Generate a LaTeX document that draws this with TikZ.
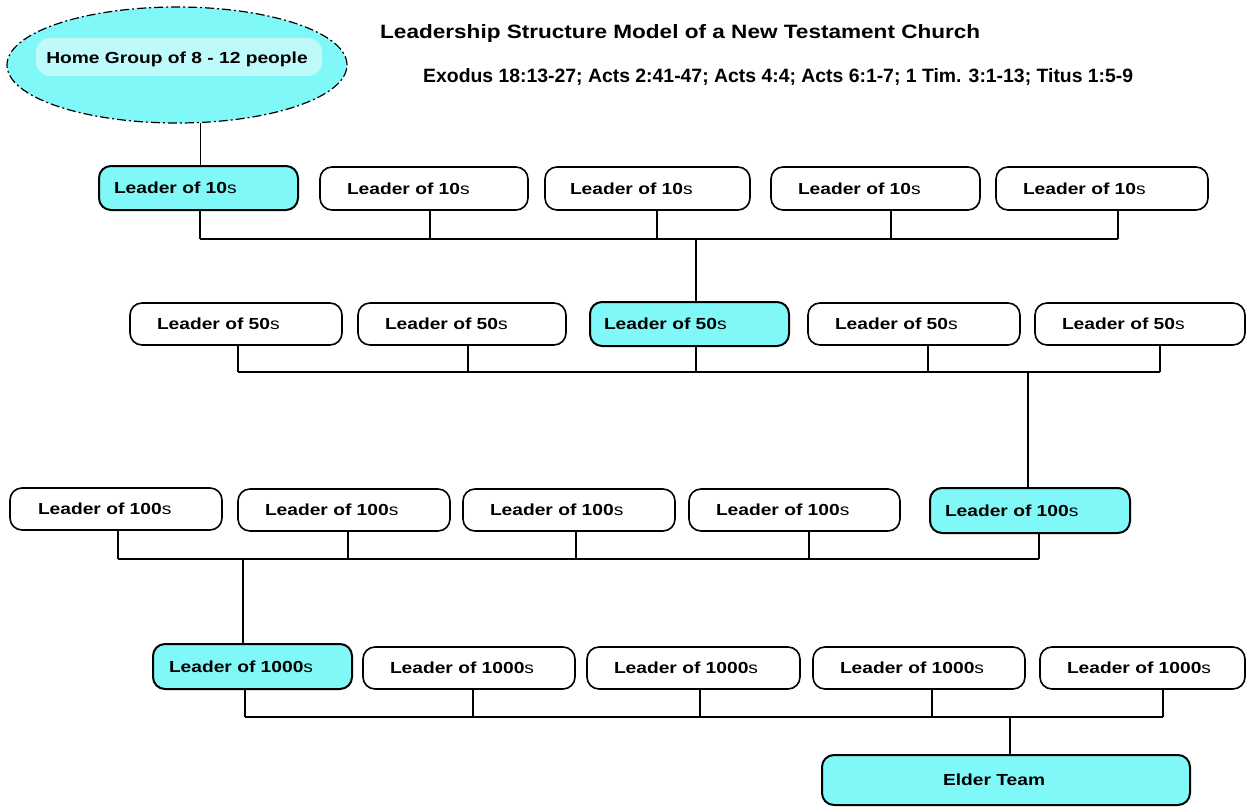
\documentclass[tikz,border=0pt]{standalone}
\usepackage{fontspec}
\setmainfont{Liberation Sans}
\newfontfamily\lblfont[FakeStretch=1.2]{Liberation Sans}
\usepackage{graphicx}
\usetikzlibrary{shapes.geometric}
\definecolor{boxcyan}{RGB}{128,248,248}
\definecolor{lightcyan}{RGB}{190,250,250}
\tikzset{
  lbl/.style={font=\lblfont\fontsize{16}{18}\selectfont},
  wbox/.style={lbl, draw=black, line width=1.6pt, rounded corners=12pt, fill=white, inner ysep=0pt, align=left},
  cbox/.style={wbox, fill=boxcyan, line width=2pt},
  wire/.style={line width=1.5pt, draw=black},
  hgshape/.style={ellipse, draw=black, line width=1.2pt, fill=boxcyan, dash pattern=on 9pt off 3pt on 2pt off 3pt, minimum width=340pt, minimum height=116pt, inner sep=0pt},
}
\newcommand\ldbox[8]{%
  \pgfmathsetmacro\bw{#5-#4}%
  \pgfmathsetmacro\bh{#7-#6}%
  \pgfmathsetmacro\bx{(#4+#5)/2}%
  \pgfmathsetmacro\by{(#6+#7)/2}%
  \pgfmathsetmacro\tw{#5-#4-2*#3}%
  \node[#2, inner xsep=#3pt, minimum width=\bw pt, minimum height=\bh pt, text width=\tw pt] (#1) at (\bx,\by) {#8};}
\newcommand\ldr[1]{\textbf{Leader of #1}s}
\begin{document}
\begin{tikzpicture}[x=1pt,y=-1pt]
\useasboundingbox (0,0) rectangle (1248,808);
% title
\node[anchor=base west, inner sep=0pt] (title) at (380,39) {\resizebox{600pt}{14pt}{\bfseries Leadership Structure Model of a New Testament Church}};
\node[anchor=base west, inner sep=0pt] (refs) at (423,82) {\resizebox{710pt}{14pt}{\bfseries Exodus 18:13-27; Acts 2:41-47; Acts 4:4; Acts 6:1-7; 1 Tim. 3:1-13; Titus 1:5-9}};
% home group
\node[hgshape] (hg) at (177,65) {};
\fill[lightcyan, rounded corners=14pt] (36,38) rectangle (322,76);
\node[lbl, anchor=base, inner sep=0pt] (hgt) at (177,64) {\textbf{Home Group of 8 - 12 people}};
% row 1
\ldbox{b11}{cbox}{15}{99}{298}{166}{210}{\ldr{10}}
\ldbox{b12}{wbox}{27}{320}{528}{167}{210}{\ldr{10}}
\ldbox{b13}{wbox}{25}{545}{750}{167}{210}{\ldr{10}}
\ldbox{b14}{wbox}{27}{771}{980}{167}{210}{\ldr{10}}
\ldbox{b15}{wbox}{27}{996}{1208}{167}{210}{\ldr{10}}
% row 2
\ldbox{b21}{wbox}{27}{130}{342}{303}{345}{\ldr{50}}
\ldbox{b22}{wbox}{27}{358}{566}{303}{345}{\ldr{50}}
\ldbox{b23}{cbox}{14}{590}{789}{302}{346}{\ldr{50}}
\ldbox{b24}{wbox}{27}{808}{1020}{303}{345}{\ldr{50}}
\ldbox{b25}{wbox}{27}{1035}{1245}{303}{345}{\ldr{50}}
% row 3
\ldbox{b31}{wbox}{28}{10}{222}{488}{530}{\ldr{100}}
\ldbox{b32}{wbox}{27}{238}{450}{489}{531}{\ldr{100}}
\ldbox{b33}{wbox}{27}{463}{675}{489}{531}{\ldr{100}}
\ldbox{b34}{wbox}{27}{689}{900}{489}{531}{\ldr{100}}
\ldbox{b35}{cbox}{15}{930}{1130}{488}{533}{\ldr{100}}
% row 4
\ldbox{b41}{cbox}{16}{153}{352}{644}{689}{\ldr{1000}}
\ldbox{b42}{wbox}{27}{363}{575}{647}{689}{\ldr{1000}}
\ldbox{b43}{wbox}{27}{587}{800}{647}{689}{\ldr{1000}}
\ldbox{b44}{wbox}{27}{813}{1025}{647}{689}{\ldr{1000}}
\ldbox{b45}{wbox}{27}{1040}{1245}{647}{689}{\ldr{1000}}
% elder team
\ldbox{elder}{cbox}{121}{822}{1190}{755}{805}{\textbf{Elder Team}}
% connectors: home group
\draw[wire] (hg.-68) -- (hg.-68 |- b11.north);
% row 1 bus
\coordinate (j11) at (200,239);
\coordinate (j12) at (430,239);
\coordinate (j13) at (657,239);
\coordinate (j14) at (891,239);
\coordinate (j15) at (1118,239);
\coordinate (t1) at (696,239);
\draw[wire] (j11) -- (j15);
\foreach \k in {1,...,5} {\draw[wire] (j1\k) -- (j1\k |- b1\k.south);}
\draw[wire] (t1) -- (t1 |- b23.north);
% row 2 bus
\coordinate (j21) at (238,372);
\coordinate (j22) at (468,372);
\coordinate (j23) at (696,372);
\coordinate (j24) at (928,372);
\coordinate (j25) at (1160,372);
\coordinate (t2) at (1028,372);
\draw[wire] (j21) -- (j25);
\foreach \k in {1,...,5} {\draw[wire] (j2\k) -- (j2\k |- b2\k.south);}
\draw[wire] (t2) -- (t2 |- b35.north);
% row 3 bus
\coordinate (j31) at (118,559);
\coordinate (j32) at (348,559);
\coordinate (j33) at (576,559);
\coordinate (j34) at (809,559);
\coordinate (j35) at (1039,559);
\coordinate (t3) at (243,559);
\draw[wire] (j31) -- (j35);
\foreach \k in {1,...,5} {\draw[wire] (j3\k) -- (j3\k |- b3\k.south);}
\draw[wire] (t3) -- (t3 |- b41.north);
% row 4 bus
\coordinate (j41) at (245,717);
\coordinate (j42) at (473,717);
\coordinate (j43) at (700,717);
\coordinate (j44) at (932,717);
\coordinate (j45) at (1163,717);
\coordinate (t4) at (1010,717);
\draw[wire] (j41) -- (j45);
\foreach \k in {1,...,5} {\draw[wire] (j4\k) -- (j4\k |- b4\k.south);}
\draw[wire] (t4) -- (t4 |- elder.north);
\end{tikzpicture}
\end{document}
